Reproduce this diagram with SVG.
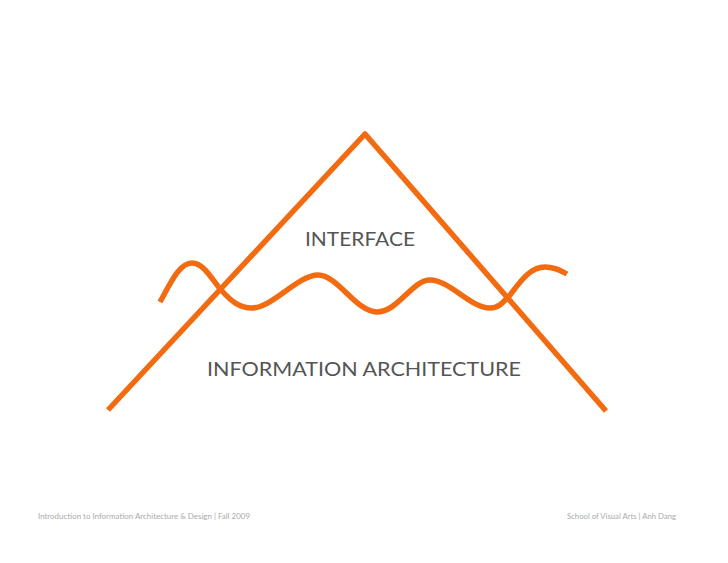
<svg xmlns="http://www.w3.org/2000/svg" width="728" height="563" viewBox="0 0 728 563">
<style>
.ln{fill:none;stroke:#f26b10;stroke-width:5.5;stroke-linejoin:round}
.lbl{font-family:Lato,"Open Sans","Liberation Sans",sans-serif;fill:#555;font-size:19px}
.ft{font-family:Lato,"Open Sans","Liberation Sans",sans-serif;fill:#aaa;font-size:7.5px}
</style>
<rect width="728" height="563" fill="#fff"/>
<g id="connectors">
<path id="triangle" class="ln" d="M108,410 L365,134 L606,411"/>
<path id="wave" class="ln" d="M160,302 C172,280 180,263 192,263 C204,263 212,280 222,291 C232,302 240,308 252,308 C272,308 298,275 318,275 C338,275 356,312 377,312 C398,312 412,280 430,280 C450,280 470,308 490,308 C500,308 505,300 510,295 C520,282 530,267 545,267 C555,267 562,271 567,274"/>
</g>
<g id="interface"><text class="lbl" x="305" y="246" textLength="110" lengthAdjust="spacingAndGlyphs">INTERFACE</text></g>
<g id="ia"><text class="lbl" x="207" y="376" textLength="314" lengthAdjust="spacingAndGlyphs">INFORMATION ARCHITECTURE</text></g>
<g id="footer-left"><text class="ft" x="38" y="519" textLength="212" lengthAdjust="spacingAndGlyphs">Introduction to Information Architecture &amp; Design | Fall 2009</text></g>
<g id="footer-right"><text class="ft" x="567" y="519" textLength="109" lengthAdjust="spacingAndGlyphs">School of Visual Arts | Anh Dang</text></g>
</svg>
